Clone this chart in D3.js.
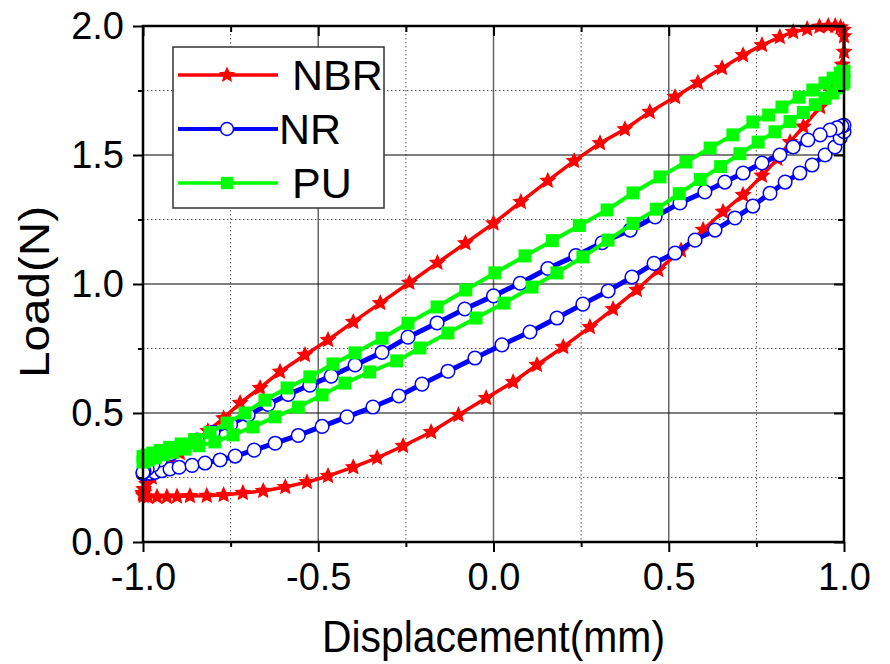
<!DOCTYPE html>
<html><head><meta charset="utf-8">
<script src="https://cdn.jsdelivr.net/npm/d3@7"></script>
<style>body{margin:0;background:#fff} svg{display:block}</style>
</head>
<body><svg id="c" width="890" height="664"></svg>
<script>
// ---- data ----
const seriesNames = ["NBR", "NR", "PU"];
const xMajorTicks = [-1.0, -0.5, 0.0, 0.5, 1.0];
const xMinorTicks = [-0.75, -0.25, 0.25, 0.75];
const yMajorTicks = [0.0, 0.5, 1.0, 1.5, 2.0];
const yMinorTicks = [0.25, 0.75, 1.25, 1.75];
const xTitle = "Displacement(mm)";
const yTitle = "Load(N)";

const nbrLower = [[-1.0,0.185],[-0.998,0.178],[-0.986,0.175],[-0.96,0.175],[-0.932,0.175],[-0.903,0.176],[-0.866,0.178],[-0.818,0.179],[-0.77,0.182],[-0.715,0.19],[-0.657,0.198],[-0.594,0.213],[-0.532,0.232],[-0.472,0.256],[-0.4,0.29],[-0.332,0.326],[-0.258,0.372],[-0.178,0.426],[-0.1,0.492],[-0.021,0.558],[0.056,0.62],[0.124,0.686],[0.199,0.756],[0.275,0.833],[0.341,0.903],[0.409,0.977],[0.47,1.054],[0.535,1.13],[0.598,1.21],[0.655,1.28],[0.712,1.345],[0.766,1.42],[0.81,1.485],[0.846,1.55],[0.884,1.61],[0.932,1.686],[0.96,1.75],[0.982,1.8],[0.995,1.85],[1.0,1.9]];
const nbrUpper = [[1.0,1.96],[0.998,1.985],[0.99,1.995],[0.975,2.0],[0.955,2.0],[0.93,1.997],[0.895,1.988],[0.855,1.977],[0.817,1.957],[0.766,1.926],[0.712,1.887],[0.652,1.837],[0.583,1.78],[0.518,1.725],[0.446,1.667],[0.375,1.6],[0.304,1.546],[0.23,1.477],[0.155,1.4],[0.078,1.318],[0.0,1.235],[-0.08,1.158],[-0.16,1.082],[-0.24,1.005],[-0.323,0.926],[-0.4,0.853],[-0.472,0.783],[-0.538,0.725],[-0.609,0.66],[-0.666,0.597],[-0.723,0.539],[-0.77,0.48],[-0.815,0.43],[-0.858,0.385],[-0.895,0.345],[-0.928,0.308],[-0.955,0.277],[-0.975,0.25],[-0.99,0.225],[-0.998,0.205],[-1.0,0.19]];

const nrLower = [[-1.0,0.265],[-0.995,0.266],[-0.98,0.267],[-0.966,0.27],[-0.946,0.276],[-0.923,0.283],[-0.897,0.29],[-0.86,0.297],[-0.823,0.306],[-0.78,0.318],[-0.737,0.333],[-0.683,0.356],[-0.623,0.383],[-0.557,0.413],[-0.489,0.448],[-0.418,0.485],[-0.344,0.523],[-0.27,0.566],[-0.204,0.612],[-0.13,0.662],[-0.053,0.713],[0.024,0.764],[0.104,0.814],[0.181,0.868],[0.255,0.922],[0.327,0.973],[0.395,1.027],[0.458,1.08],[0.518,1.12],[0.575,1.17],[0.632,1.209],[0.689,1.256],[0.74,1.302],[0.789,1.352],[0.832,1.395],[0.874,1.43],[0.909,1.461],[0.946,1.5],[0.974,1.531],[0.989,1.566],[1.0,1.59]];
const nrUpper = [[1.0,1.615],[0.994,1.612],[0.98,1.605],[0.96,1.597],[0.932,1.578],[0.897,1.558],[0.855,1.531],[0.817,1.5],[0.766,1.469],[0.712,1.43],[0.66,1.395],[0.603,1.357],[0.532,1.314],[0.461,1.26],[0.39,1.209],[0.31,1.16],[0.235,1.11],[0.155,1.06],[0.076,1.003],[0.0,0.954],[-0.082,0.903],[-0.161,0.849],[-0.244,0.794],[-0.318,0.735],[-0.395,0.686],[-0.463,0.643],[-0.524,0.608],[-0.586,0.572],[-0.643,0.533],[-0.7,0.492],[-0.75,0.455],[-0.8,0.425],[-0.845,0.395],[-0.885,0.367],[-0.92,0.342],[-0.95,0.318],[-0.972,0.298],[-0.988,0.283],[-0.997,0.273],[-1.0,0.27]];

const puLower = [[-1.0,0.31],[-0.997,0.312],[-0.985,0.318],[-0.965,0.326],[-0.943,0.338],[-0.915,0.348],[-0.88,0.36],[-0.84,0.373],[-0.795,0.388],[-0.743,0.415],[-0.686,0.446],[-0.623,0.485],[-0.557,0.523],[-0.489,0.57],[-0.424,0.616],[-0.353,0.659],[-0.276,0.702],[-0.21,0.752],[-0.13,0.81],[-0.05,0.868],[0.03,0.926],[0.11,0.988],[0.181,1.043],[0.255,1.105],[0.327,1.17],[0.398,1.235],[0.465,1.29],[0.53,1.35],[0.59,1.405],[0.648,1.455],[0.703,1.505],[0.755,1.55],[0.803,1.59],[0.846,1.63],[0.884,1.665],[0.918,1.695],[0.946,1.72],[0.968,1.74],[0.985,1.76],[0.996,1.775],[1.0,1.785]];
const puUpper = [[1.0,1.825],[0.997,1.822],[0.989,1.817],[0.969,1.798],[0.946,1.779],[0.911,1.752],[0.872,1.724],[0.823,1.686],[0.785,1.655],[0.74,1.628],[0.683,1.578],[0.618,1.527],[0.549,1.473],[0.475,1.415],[0.398,1.353],[0.324,1.287],[0.245,1.227],[0.168,1.168],[0.09,1.109],[0.004,1.043],[-0.079,0.977],[-0.161,0.911],[-0.244,0.848],[-0.318,0.79],[-0.395,0.733],[-0.458,0.69],[-0.524,0.64],[-0.589,0.597],[-0.652,0.55],[-0.709,0.5],[-0.76,0.461],[-0.809,0.424],[-0.853,0.397],[-0.891,0.38],[-0.924,0.367],[-0.951,0.355],[-0.972,0.345],[-0.988,0.337],[-0.997,0.332],[-1.0,0.33]];

// ---- chart ----
const FONT = "'Liberation Sans', Arial, sans-serif";
const L = 143, R = 844, T = 26, B = 542;
const x = d3.scaleLinear().domain([-1, 1]).range([L, R]);
const y = d3.scaleLinear().domain([0, 2]).range([B, T]);
const svg = d3.select("#c");
const fmt = d => d.toFixed(1);

// grid
const grid = svg.append("g");
grid.selectAll(".vmin").data(xMinorTicks).join("line")
  .attr("x1", d => x(d)).attr("x2", d => x(d)).attr("y1", T).attr("y2", B)
  .attr("stroke", "#555").attr("stroke-width", 1).attr("stroke-dasharray", "1.5,2.5");
grid.selectAll(".hmin").data(yMinorTicks).join("line")
  .attr("x1", L).attr("x2", R).attr("y1", d => y(d)).attr("y2", d => y(d))
  .attr("stroke", "#555").attr("stroke-width", 1).attr("stroke-dasharray", "1.5,2.5");
grid.selectAll(".vmaj").data(xMajorTicks.slice(1, -1)).join("line")
  .attr("x1", d => x(d)).attr("x2", d => x(d)).attr("y1", T).attr("y2", B)
  .attr("stroke", "#666").attr("stroke-width", 1.5);
grid.selectAll(".hmaj").data(yMajorTicks.slice(1, -1)).join("line")
  .attr("x1", L).attr("x2", R).attr("y1", d => y(d)).attr("y2", d => y(d))
  .attr("stroke", "#000").attr("stroke-width", 1);

// series
const styles = [
  {name: seriesNames[0], data: nbrLower.concat(nbrUpper), color: "#ff0000", width: 3.5, marker: "star"},
  {name: seriesNames[1], data: nrLower.concat(nrUpper), color: "#0000ff", width: 5, marker: "circle"},
  {name: seriesNames[2], data: puLower.concat(puUpper), color: "#00ff00", width: 4, marker: "square"}
];
const line = d3.line().x(d => x(d[0])).y(d => y(d[1]));

function starPath(ro, ri) {
  const pts = [];
  for (let k = 0; k < 10; k++) {
    const a = -Math.PI / 2 + k * Math.PI / 5;
    const r = k % 2 === 0 ? ro : ri;
    pts.push([r * Math.cos(a), r * Math.sin(a)]);
  }
  return "M" + pts.map(p => p[0].toFixed(2) + "," + p[1].toFixed(2)).join("L") + "Z";
}

function drawMarker(g, m, color, px, py, scale) {
  scale = scale || 1;
  if (m === "star") {
    g.append("path").attr("d", starPath(9 * scale, 4.2 * scale))
      .attr("transform", `translate(${px},${py})`).attr("fill", color);
  } else if (m === "circle") {
    g.append("circle").attr("cx", px).attr("cy", py).attr("r", 6.8 * scale)
      .attr("fill", "#fff").attr("stroke", color).attr("stroke-width", 1.5);
  } else {
    const s = 13 * scale;
    g.append("rect").attr("x", px - s / 2).attr("y", py - s / 2).attr("width", s).attr("height", s)
      .attr("fill", color);
  }
}

styles.forEach(s => {
  const g = svg.append("g");
  g.append("path").datum(s.data).attr("d", line)
    .attr("fill", "none").attr("stroke", s.color).attr("stroke-width", s.width)
    .attr("stroke-linejoin", "round");
  s.data.forEach(d => drawMarker(g, s.marker, s.color, x(d[0]), y(d[1])));
});

// axes
function styleAxis(g) {
  g.select(".domain").remove();
  g.selectAll("line").attr("stroke", "#000").attr("stroke-width", 2);
  g.selectAll("text").attr("font-family", FONT).attr("font-size", 38).attr("fill", "#000");
}
svg.append("g").attr("transform", `translate(0,${B})`)
  .call(d3.axisBottom(x).tickValues(xMajorTicks).tickSize(10).tickPadding(11).tickFormat(fmt)).call(styleAxis);
svg.append("g").attr("transform", `translate(0,${B})`)
  .call(d3.axisBottom(x).tickValues(xMinorTicks).tickSize(5).tickFormat("")).call(styleAxis);
svg.append("g").attr("transform", `translate(${L},0)`)
  .call(d3.axisLeft(y).tickValues(yMajorTicks).tickSize(10).tickPadding(9).tickFormat(fmt)).call(styleAxis);
svg.append("g").attr("transform", `translate(${L},0)`)
  .call(d3.axisLeft(y).tickValues(yMinorTicks).tickSize(5).tickFormat("")).call(styleAxis);
svg.append("g").attr("transform", `translate(0,${T})`)
  .call(d3.axisTop(x).tickValues(xMajorTicks).tickSize(-10).tickFormat("")).call(styleAxis);
svg.append("g").attr("transform", `translate(0,${T})`)
  .call(d3.axisTop(x).tickValues(xMinorTicks).tickSize(-6).tickFormat("")).call(styleAxis);
svg.append("g").attr("transform", `translate(${R},0)`)
  .call(d3.axisRight(y).tickValues(yMajorTicks).tickSize(-10).tickFormat("")).call(styleAxis);
svg.append("g").attr("transform", `translate(${R},0)`)
  .call(d3.axisRight(y).tickValues(yMinorTicks).tickSize(-6).tickFormat("")).call(styleAxis);

// frame
svg.append("rect").attr("x", L).attr("y", T).attr("width", R - L).attr("height", B - T)
  .attr("fill", "none").attr("stroke", "#000").attr("stroke-width", 2.5);

// titles
svg.append("text").attr("x", (L + R) / 2).attr("y", 652).attr("text-anchor", "middle")
  .attr("font-family", FONT).attr("font-size", 44).attr("textLength", 343)
  .attr("lengthAdjust", "spacingAndGlyphs").text(xTitle);
svg.append("text").attr("transform", "translate(49,292) rotate(-90)").attr("text-anchor", "middle")
  .attr("font-family", FONT).attr("font-size", 42).attr("textLength", 172)
  .attr("lengthAdjust", "spacingAndGlyphs").text(yTitle);

// legend
const lg = svg.append("g");
lg.append("rect").attr("x", 173).attr("y", 47).attr("width", 211).attr("height", 161)
  .attr("fill", "#fff").attr("stroke", "#333").attr("stroke-width", 1.5);
const legendY = [75, 129, 183];
const legendTextX = [292, 279, 292];
const legendLineW = [3.5, 4, 3.5];
styles.forEach((s, i) => {
  lg.append("line").attr("x1", 178).attr("x2", 278).attr("y1", legendY[i]).attr("y2", legendY[i])
    .attr("stroke", s.color).attr("stroke-width", legendLineW[i]);
  drawMarker(lg, s.marker, s.color, 227, legendY[i], 0.95);
  lg.append("text").attr("x", legendTextX[i]).attr("y", legendY[i] + 15)
    .attr("font-family", FONT).attr("font-size", 43).text(s.name);
});
</script>
</body></html>
